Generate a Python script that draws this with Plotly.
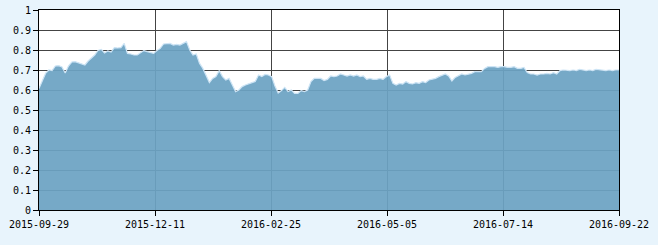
import plotly.graph_objects as go

tick_labels = ["2015-09-29", "2015-12-11", "2016-02-25", "2016-05-05", "2016-07-14", "2016-09-22"]
y_ticks = [0, 0.1, 0.2, 0.3, 0.4, 0.5, 0.6, 0.7, 0.8, 0.9, 1]

seg1 = [0.608, 0.65, 0.683, 0.70, 0.697, 0.72, 0.722, 0.715, 0.685, 0.72,
        0.74, 0.742, 0.735, 0.732, 0.725, 0.745, 0.758, 0.775, 0.798, 0.803,
        0.785, 0.795, 0.79, 0.812, 0.81, 0.812, 0.833, 0.783, 0.78, 0.775]
seg2 = [0.775, 0.788, 0.797, 0.792, 0.787, 0.783, 0.797, 0.808, 0.83, 0.833,
        0.833, 0.825, 0.828, 0.825, 0.833, 0.842, 0.80, 0.775, 0.78, 0.733,
        0.708, 0.675, 0.637, 0.658, 0.667, 0.697, 0.667, 0.65, 0.658, 0.625]
seg3 = [0.592, 0.60, 0.617, 0.625, 0.633, 0.637, 0.642, 0.675, 0.667, 0.678,
        0.675, 0.667, 0.62, 0.585, 0.597, 0.613, 0.592, 0.60, 0.583, 0.583,
        0.597, 0.592, 0.60, 0.642, 0.658, 0.658, 0.658, 0.647, 0.653, 0.67]
seg4 = [0.667, 0.67, 0.68, 0.675, 0.67, 0.675, 0.67, 0.675, 0.667, 0.67,
        0.653, 0.658, 0.653, 0.653, 0.658, 0.653, 0.667, 0.675, 0.633, 0.625,
        0.633, 0.63, 0.642, 0.633, 0.63, 0.637, 0.633, 0.642, 0.637, 0.65]
seg5 = [0.653, 0.658, 0.667, 0.675, 0.68, 0.67, 0.645, 0.663, 0.67, 0.68,
        0.675, 0.68, 0.683, 0.692, 0.692, 0.692, 0.708, 0.717, 0.717, 0.717,
        0.713, 0.717, 0.717, 0.713, 0.713, 0.717, 0.708, 0.708, 0.713, 0.687]
seg6 = [0.68, 0.68, 0.675, 0.68, 0.68, 0.683, 0.68, 0.687, 0.68, 0.697,
        0.70, 0.697, 0.697, 0.70, 0.697, 0.703, 0.70, 0.697, 0.70, 0.697,
        0.703, 0.70, 0.70, 0.697, 0.70, 0.697, 0.70, 0.70]

values = seg1 + seg2 + seg3 + seg4 + seg5 + seg6
n = len(values)
x_idx = list(range(n))
tick_pos = [(n - 1) * k / 5 for k in range(6)]

fig = go.Figure()
fig.add_trace(go.Scatter(
    x=x_idx, y=values, mode="lines", fill="tozeroy",
    fillcolor="rgba(108,163,195,0.93)",
    line=dict(color="rgba(205,228,245,1)", width=1.2),
    hoverinfo="skip", showlegend=False,
))

font = dict(family="DejaVu Sans Mono", size=10, color="#000000")
fig.update_layout(
    width=658, height=245,
    margin=dict(l=39, r=39, t=10, b=35, pad=0, autoexpand=False),
    paper_bgcolor="#e8f4fc", plot_bgcolor="#ffffff",
    font=font,
    xaxis=dict(
        range=[0, n - 1], tickmode="array", tickvals=tick_pos, ticktext=tick_labels,
        showgrid=True, gridcolor="#444444", gridwidth=1,
        showline=True, linecolor="#000000", linewidth=1, mirror=True,
        ticks="outside", ticklen=5, tickcolor="#000000", zeroline=False,
        tickfont=font, automargin=False,
    ),
    yaxis=dict(
        range=[0, 1], tickmode="array", tickvals=y_ticks,
        ticktext=[str(v) for v in y_ticks],
        showgrid=True, gridcolor="#444444", gridwidth=1,
        showline=True, linecolor="#000000", linewidth=1, mirror=True,
        ticks="outside", ticklen=5, tickcolor="#000000", zeroline=False,
        tickfont=font, automargin=False,
    ),
)

fig.write_html("out.html")
